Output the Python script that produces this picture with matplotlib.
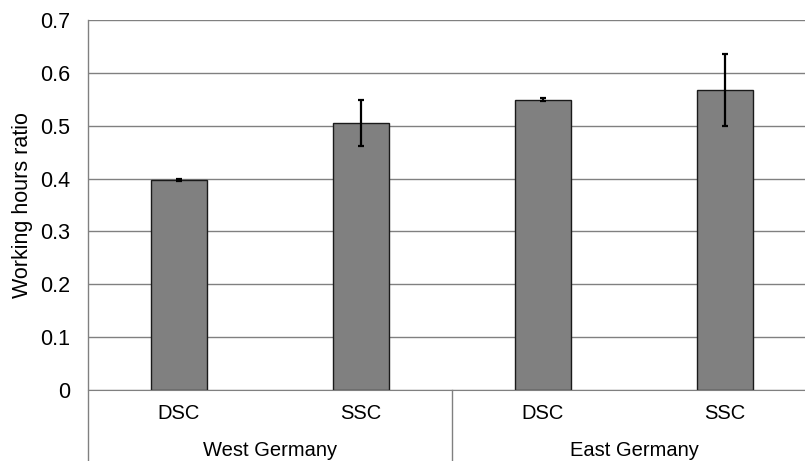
import numpy as np
import matplotlib.pyplot as plt
from matplotlib import transforms

plt.rcParams['font.family'] = ['Liberation Sans', 'DejaVu Sans']

# data
groups = ['West Germany', 'East Germany']
categories = ['DSC', 'SSC', 'DSC', 'SSC']
ratios = [0.397, 0.505, 0.549, 0.567]
errors = [0.002, 0.043, 0.003, 0.068]
yticks = [0, 0.1, 0.2, 0.3, 0.4, 0.5, 0.6, 0.7]
ytick_labels = ['0', '0.1', '0.2', '0.3', '0.4', '0.5', '0.6', '0.7']

W, H = 805, 461
fig = plt.figure(figsize=(W / 100, H / 100), dpi=100)
ax = fig.add_axes([88 / W, (H - 390) / H, (816 - 88) / W, (390 - 20) / H])

x = np.arange(len(categories))
ax.set_axisbelow(True)
ax.yaxis.grid(True, color='#808080', lw=1)
ax.bar(x, ratios, width=0.313, color='#808080', edgecolor='#1a1a1a', lw=1, zorder=2)
ax.errorbar(x, ratios, yerr=errors, fmt='none', ecolor='black', elinewidth=1.6,
            capsize=2.5, capthick=1.6, zorder=3)

ax.set_xlim(-0.5, 3.5)
ax.set_ylim(0, 0.7)
ax.set_yticks(yticks)
ax.set_yticklabels(ytick_labels)
ax.set_xticks([])
ax.tick_params(axis='y', length=0, pad=13, labelsize=15.5)
for s in ['top', 'right', 'left']:
    ax.spines[s].set_visible(False)
ax.spines['bottom'].set_color('#808080')
ax.set_ylabel('Working hours ratio', fontsize=15.5, labelpad=5)

# two-level category axis
trans = transforms.blended_transform_factory(ax.transData, ax.transAxes)
bottom = -(H - 390) / (390 - 20)
top = 1.0
for xv in [-0.5, 1.5, 3.5]:
    y0 = top if xv == -0.5 else 0
    ax.plot([xv, xv], [bottom, y0], color='#808080', lw=1, transform=trans, clip_on=False)

off1 = -23 / (390 - 20)
off2 = -60 / (390 - 20)
for xi, c in zip(x, categories):
    ax.text(xi, off1, c, transform=trans, ha='center', va='center', fontsize=14.5)
for gi, g in enumerate(groups):
    ax.text(gi * 2 + 0.5, off2, g, transform=trans, ha='center', va='center', fontsize=14.5)

fig.savefig('out.png', dpi=100)
